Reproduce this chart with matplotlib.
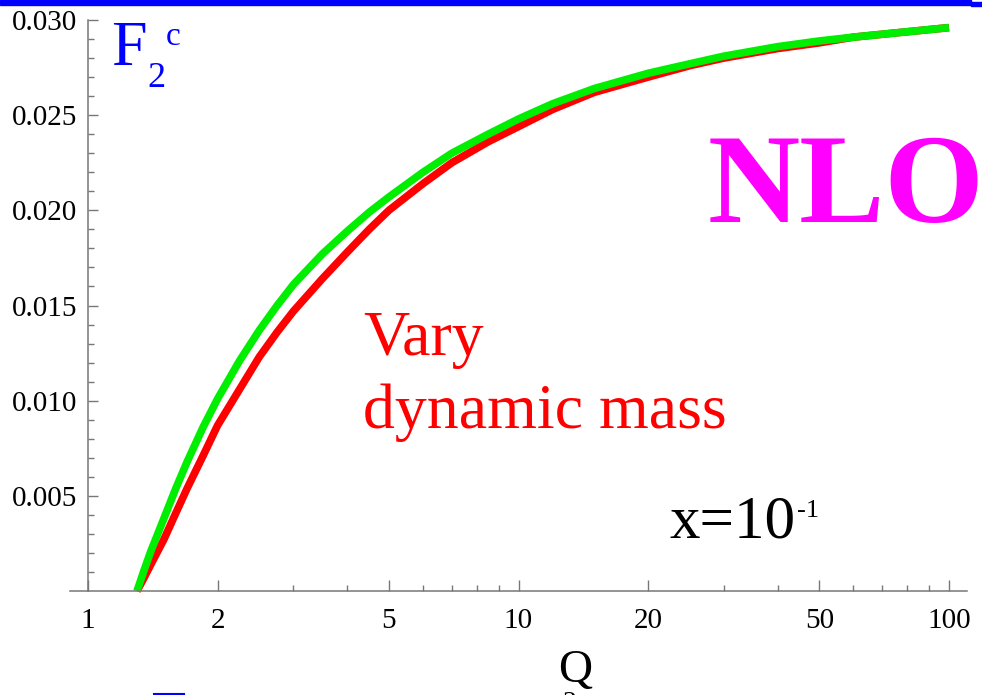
import numpy as np
import matplotlib.pyplot as plt
from matplotlib.ticker import FixedLocator, NullFormatter
from matplotlib.patches import Rectangle
from matplotlib.lines import Line2D

plt.rcParams['font.family'] = ['Liberation Serif', 'DejaVu Serif']

# Q values and F2c curves
q = [1.3, 1.35, 1.4, 1.5, 1.6, 1.7, 1.85, 2, 2.25, 2.5, 2.75, 3, 3.5, 4, 4.5, 5,
     6, 7, 8.5, 10, 12, 15, 20, 25, 30, 40, 50, 60, 75, 100]
f2c_green = [0.0, 0.0011, 0.0021, 0.0038, 0.0054, 0.0068, 0.0086, 0.0101, 0.0121,
             0.0137, 0.0150, 0.0161, 0.0177, 0.0189, 0.0199, 0.0207, 0.0220, 0.0230,
             0.0240, 0.0248, 0.0256, 0.0264, 0.0272, 0.0277, 0.0281, 0.0286, 0.0289,
             0.0291, 0.02932, 0.0296]
f2c_red = [0.0, 0.0007, 0.0014, 0.0027, 0.0041, 0.0054, 0.0071, 0.0087, 0.0106,
           0.0123, 0.0136, 0.0147, 0.0164, 0.0178, 0.0190, 0.0200, 0.0214, 0.0225,
           0.0236, 0.0244, 0.0253, 0.0262, 0.0270, 0.0276, 0.0280, 0.0285, 0.0288,
           0.0291, 0.02932, 0.0296]

xticks = [1, 2, 5, 10, 20, 50, 100]
xtick_labels = ['1', '2', '5', '10', '20', '50', '100']
yticks = [0.005, 0.010, 0.015, 0.020, 0.025, 0.030]
ytick_labels = ['0.005', '0.010', '0.015', '0.020', '0.025', '0.030']

W, H = 982, 695
fig = plt.figure(figsize=(W / 100, H / 100), dpi=100)

# axes box in pixels: x from 70 to 967, y from 591 (0) up to 20 (0.030)
x0, x1, xq1, dec = 70, 967, 88, 430.5
ax = fig.add_axes([x0 / W, (H - 591) / H, (x1 - x0) / W, 571 / H])
ax.set_xscale('log')
ax.set_xlim(10 ** ((x0 - xq1) / dec), 10 ** ((x1 - xq1) / dec))
ax.set_ylim(0, 0.030)

ax.plot(q, f2c_red, color='#ff0000', lw=5.5, solid_capstyle='butt', clip_on=False)
ax.plot(q, f2c_green, color='#00ee00', lw=5.5, solid_capstyle='butt', clip_on=False)

gray = '#777777'
for s in ['top', 'right']:
    ax.spines[s].set_visible(False)
ax.spines['left'].set_position(('data', 1))
for s in ['left', 'bottom']:
    ax.spines[s].set_color(gray)
    ax.spines[s].set_linewidth(1.1)

ax.xaxis.set_major_locator(FixedLocator(xticks))
ax.set_xticklabels(xtick_labels)
minx = [3, 4, 6, 7, 8, 9, 30, 40, 60, 70, 80, 90]
ax.xaxis.set_minor_locator(FixedLocator(minx))
ax.xaxis.set_minor_formatter(NullFormatter())
ax.set_yticks(yticks)
ax.set_yticklabels(ytick_labels)
ax.yaxis.set_minor_locator(FixedLocator(np.arange(0.001, 0.030, 0.001)))

ax.tick_params(axis='x', which='major', direction='in', length=8, width=1, color=gray,
               labelsize=21, pad=12)
ax.tick_params(axis='x', which='minor', direction='in', length=4, width=1, color=gray)
ax.tick_params(axis='y', which='major', direction='in', length=7.5, width=1, color=gray,
               labelsize=21, pad=8)
ax.tick_params(axis='y', which='minor', direction='in', length=4.5, width=1, color=gray)

# labels
fig.text(111 / W, 1 - 65 / H, 'F', color='#0000ff', fontsize=46, va='baseline')
fig.text(147 / W, 1 - 87 / H, '2', color='#0000ff', fontsize=26, va='baseline')
fig.text(166 / W, 1 - 45 / H, 'c', color='#0000ff', fontsize=24, va='baseline')
fig.text(708 / W, 1 - 222 / H, 'NLO', color='#ff00ff', fontsize=92, fontweight='bold',
         va='baseline')
fig.text(363 / W, 1 - 355 / H, 'Vary', color='#ff0000', fontsize=46, va='baseline')
fig.text(363 / W, 1 - 428 / H, 'dynamic mass', color='#ff0000', fontsize=46, va='baseline')
fig.text(669 / W, 1 - 537 / H, 'x=10', color='black', fontsize=44, va='baseline')
fig.text(797 / W, 1 - 517 / H, '-1', color='black', fontsize=19, va='baseline')
fig.text(558 / W, 1 - 682 / H, 'Q', color='black', fontsize=34, va='baseline')
fig.text(563 / W, 1 - 710 / H, '2', color='black', fontsize=20, va='baseline')

# blue header bar and small fragment at the bottom
fig.patches.append(Rectangle((0, 1 - 5 / H), 971 / W, 5 / H, transform=fig.transFigure,
                             color='#0000ff', zorder=5))
fig.patches.append(Rectangle((971 / W, 1 - 6 / H), 11 / W, 4 / H, transform=fig.transFigure,
                             color='#0000ff', zorder=5))
fig.lines.append(Line2D([154 / W, 184 / W], [1 - 694 / H, 1 - 694 / H],
                        transform=fig.transFigure, color='#0000ff', lw=1.5))

fig.savefig('out.png', dpi=100)
